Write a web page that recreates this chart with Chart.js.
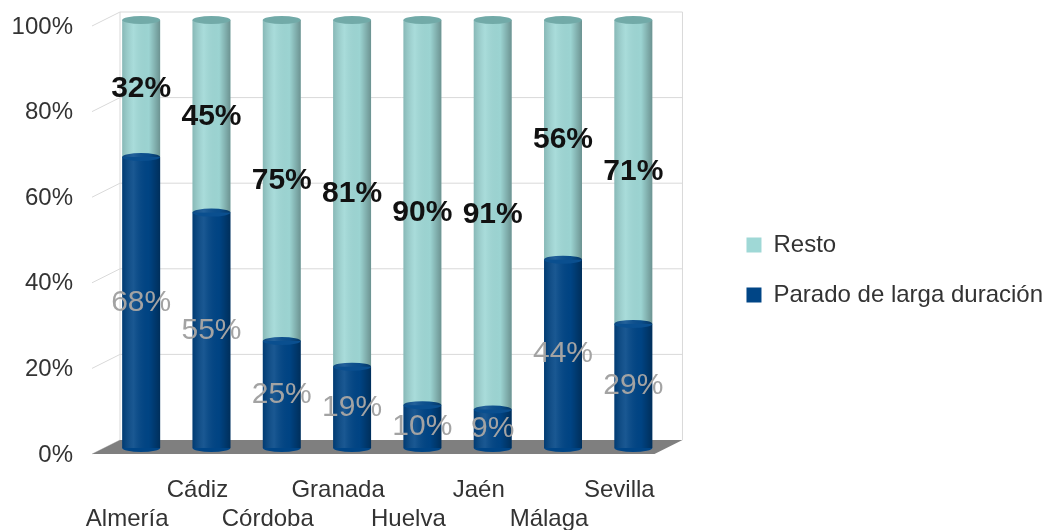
<!DOCTYPE html>
<html>
<head>
<meta charset="utf-8">
<script src="https://cdn.jsdelivr.net/npm/chart.js@4/dist/chart.umd.min.js"></script>
<style>
  html, body { margin: 0; padding: 0; background: #fff; }
  #wrap { width: 1053px; height: 530px; }
</style>
</head>
<body>
<div id="wrap"><canvas id="chart"></canvas></div>
<script>
const provincias = ['Almería', 'Cádiz', 'Córdoba', 'Granada', 'Huelva', 'Jaén', 'Málaga', 'Sevilla']
const paradoLarga = [68, 55, 25, 19, 10, 9, 44, 29]
const resto = [32, 45, 75, 81, 90, 91, 56, 71]
const yTicks = [0, 20, 40, 60, 80, 100]

const TEAL = '#9fd8d6'
const TEAL_CAP = '#72aaa8'
const NAVY = '#004586'
const NAVY_CAP = '#0a4f8f'
// fake 3D depth: front plane sits down-left of the bars, back wall up-right
const DX = 14
const FRONT_DY = 6
const BACK_DY = -8

Chart.defaults.font.family = "'Liberation Sans', Arial, sans-serif"
Chart.defaults.font.size = 24
Chart.defaults.color = '#333'

// back wall, side wall and floor
const walls = {
  id: 'walls',
  beforeDatasetsDraw(chart) {
    const { ctx, chartArea: ca, scales: { y } } = chart
    const y0 = y.getPixelForValue(0)
    const yTop = y.getPixelForValue(100)
    ctx.save()
    ctx.strokeStyle = '#d9d9d9'
    ctx.lineWidth = 1
    y.ticks.forEach(t => {
      const py = y.getPixelForValue(t.value)
      ctx.beginPath()
      ctx.moveTo(ca.left - DX, py + FRONT_DY)
      ctx.lineTo(ca.left + DX, py + BACK_DY)
      if (t.value > 0) ctx.lineTo(ca.right + DX, py + BACK_DY)
      ctx.stroke()
    })
    ctx.beginPath()
    ctx.moveTo(ca.left + DX, yTop + BACK_DY)
    ctx.lineTo(ca.left + DX, y0 + BACK_DY)
    ctx.moveTo(ca.right + DX, yTop + BACK_DY)
    ctx.lineTo(ca.right + DX, y0 + BACK_DY)
    ctx.stroke()
    // floor
    ctx.fillStyle = '#7f7f7f'
    ctx.beginPath()
    ctx.moveTo(ca.left - DX, y0 + FRONT_DY)
    ctx.lineTo(ca.right - DX, y0 + FRONT_DY)
    ctx.lineTo(ca.right + DX, y0 + BACK_DY)
    ctx.lineTo(ca.left + DX, y0 + BACK_DY)
    ctx.closePath()
    ctx.fill()
    ctx.restore()
  }
}

// cylinder shading, caps and value labels
const cylinders = {
  id: 'cylinders',
  afterDatasetsDraw(chart) {
    const { ctx } = chart
    ctx.save()
    chart.data.datasets.forEach((ds, di) => {
      const meta = chart.getDatasetMeta(di)
      meta.data.forEach(bar => {
        const w = bar.width
        const left = bar.x - w / 2
        const g = ctx.createLinearGradient(left, 0, left + w, 0)
        g.addColorStop(0, 'rgba(0,0,0,0.15)')
        g.addColorStop(0.3, 'rgba(255,255,255,0.10)')
        g.addColorStop(0.7, 'rgba(0,0,0,0.02)')
        g.addColorStop(1, 'rgba(0,0,0,0.32)')
        ctx.fillStyle = g
        ctx.fillRect(left, bar.y, w, bar.base - bar.y)
        const rx = w / 2, ry = 4
        if (di === 0) {
          ctx.fillStyle = NAVY
          ctx.beginPath(); ctx.ellipse(bar.x, bar.base, rx, ry, 0, 0, Math.PI); ctx.fill()
          ctx.fillStyle = NAVY_CAP
          ctx.beginPath(); ctx.ellipse(bar.x, bar.y, rx, ry, 0, 0, 2 * Math.PI); ctx.fill()
        } else {
          ctx.fillStyle = TEAL_CAP
          ctx.beginPath(); ctx.ellipse(bar.x, bar.y, rx, ry, 0, 0, 2 * Math.PI); ctx.fill()
        }
      })
    })
    ctx.textAlign = 'center'
    ctx.textBaseline = 'middle'
    chart.data.datasets.forEach((ds, di) => {
      const meta = chart.getDatasetMeta(di)
      ctx.font = (di === 1 ? 'bold ' : '') + "30px 'Liberation Sans', Arial, sans-serif"
      ctx.fillStyle = di === 1 ? '#111' : '#a3a3a3'
      meta.data.forEach((bar, i) => {
        ctx.fillText(ds.data[i] + '%', bar.x, (bar.y + bar.base) / 2)
      })
    })
    ctx.restore()
  }
}

new Chart(document.getElementById('chart'), {
  type: 'bar',
  data: {
    labels: provincias,
    datasets: [
      { label: 'Parado de larga duración', data: paradoLarga, backgroundColor: NAVY },
      { label: 'Resto', data: resto, backgroundColor: TEAL }
    ]
  },
  options: {
    responsive: true,
    maintainAspectRatio: false,
    animation: false,
    categoryPercentage: 1,
    barPercentage: 0.54,
    layout: { padding: { top: 10, right: 0 } },
    plugins: {
      tooltip: { enabled: false },
      legend: {
        position: 'right',
        reverse: true,
        maxWidth: 380,
        labels: { boxWidth: 15, boxHeight: 15, padding: 26, color: '#333' }
      }
    },
    scales: {
      x: {
        stacked: true,
        grid: { display: false, drawTicks: false },
        border: { display: false },
        ticks: {
          autoSkip: false,
          maxRotation: 0,
          padding: 28,
          labelOffset: -DX,
          color: '#333',
          callback: (v, i) => i % 2 === 0 ? ['', provincias[i]] : [provincias[i], '']
        },
        afterFit: s => { s.height = 82; s.paddingLeft = 0; s.paddingRight = 0 }
      },
      y: {
        stacked: true,
        min: 0,
        max: 100,
        grid: { display: false, drawTicks: false },
        border: { display: false },
        afterBuildTicks: s => { s.ticks = yTicks.map(v => ({ value: v })) },
        ticks: { padding: 33, labelOffset: 7, color: '#333', callback: v => v + '%' },
        afterFit: s => { s.width = 106; s.paddingTop = 20; s.paddingBottom = 0 }
      },
      gap: {
        position: 'right',
        grid: { display: false, drawTicks: false },
        border: { display: false },
        ticks: { display: false },
        afterFit: s => { s.width = 52; s.paddingTop = 0; s.paddingBottom = 0 }
      }
    }
  },
  plugins: [walls, cylinders]
})
</script>
</body>
</html>
